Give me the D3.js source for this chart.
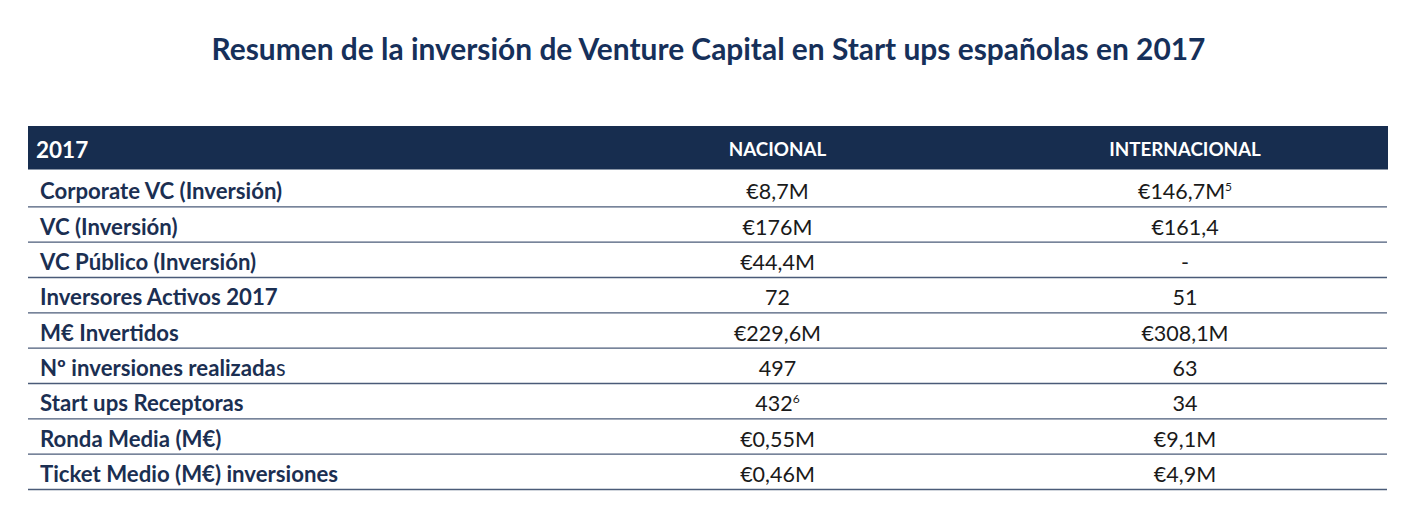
<!DOCTYPE html>
<html>
<head>
<meta charset="utf-8">
<script src="https://cdn.jsdelivr.net/npm/d3@7"></script>
<style>
  html, body { margin: 0; padding: 0; background: #ffffff; }
  svg { display: block; }
</style>
</head>
<body>
<svg id="chart" width="1419" height="529"></svg>
<script>
// ---- data ----
const title = "Resumen de la inversión de Venture Capital en Start ups españolas en 2017";
const headerYear = "2017";
const columns = ["NACIONAL", "INTERNACIONAL"];
const rowLabels = [
  "Corporate VC (Inversión)",
  "VC (Inversión)",
  "VC Público (Inversión)",
  "Inversores Activos 2017",
  "M€ Invertidos",
  "Nº inversiones realizadas",
  "Start ups Receptoras",
  "Ronda Media (M€)",
  "Ticket Medio (M€) inversiones"
];
const nacional = ["€8,7M", "€176M", "€44,4M", "72", "€229,6M", "497", "432", "€0,55M", "€0,46M"];
const internacional = ["€146,7M", "€161,4", "-", "51", "€308,1M", "63", "34", "€9,1M", "€4,9M"];
const nacionalNotes = ["", "", "", "", "", "", "6", "", ""];
const internacionalNotes = ["5", "", "", "", "", "", "", "", ""];
// last character of this label is set in regular weight in the source
const labelRegularTail = ["", "", "", "", "", "s", "", "", ""];

// ---- layout ----
const svg = d3.select("#chart");
const navy = "#172d4f";
const textNavy = "#1b2f52";
const FONT = "Lato, 'Open Sans', sans-serif";

const tableLeft = 28, tableRight = 1388;
const headerTop = 126, headerBottom = 169.5;

const x = d3.scaleOrdinal()
  .domain(columns)
  .range([777.5, 1185]);

const y = d3.scaleBand()
  .domain(rowLabels)
  .range([171.5, 489.5])
  .paddingInner(0)
  .paddingOuter(0);

// title
svg.append("text")
  .attr("x", 708.5)
  .attr("y", 60)
  .attr("text-anchor", "middle")
  .attr("font-family", FONT)
  .attr("font-weight", 700)
  .attr("font-size", 29.9)
  .attr("fill", "#16305a")
  .text(title);

// header band
svg.append("rect")
  .attr("x", tableLeft)
  .attr("y", headerTop)
  .attr("width", tableRight - tableLeft)
  .attr("height", headerBottom - headerTop)
  .attr("fill", navy);

svg.append("text")
  .attr("x", 36)
  .attr("y", 157.5)
  .attr("font-family", FONT)
  .attr("font-weight", 700)
  .attr("font-size", 22.5)
  .attr("fill", "#ffffff")
  .text(headerYear);

svg.selectAll("text.colhead")
  .data(columns)
  .join("text")
  .attr("class", "colhead")
  .attr("x", d => x(d))
  .attr("y", 156)
  .attr("text-anchor", "middle")
  .attr("font-family", FONT)
  .attr("font-weight", 700)
  .attr("font-size", 18.8)
  .attr("fill", "#ffffff")
  .text(d => d);

// rows
const rows = rowLabels.map((label, i) => ({
  label,
  tail: labelRegularTail[i],
  cells: [
    { col: columns[0], value: nacional[i], note: nacionalNotes[i] },
    { col: columns[1], value: internacional[i], note: internacionalNotes[i] }
  ]
}));

const rowG = svg.selectAll("g.row")
  .data(rows)
  .join("g")
  .attr("class", "row")
  .attr("transform", d => `translate(0,${y(d.label)})`);

// separator lines at bottom of each row
rowG.append("line")
  .attr("x1", tableLeft)
  .attr("x2", tableRight - 1)
  .attr("y1", y.bandwidth())
  .attr("y2", y.bandwidth())
  .attr("stroke", "#4a5b78")
  .attr("stroke-width", 1.4);

const baseline = y.bandwidth() - 7.5;

const lab = rowG.append("text")
  .attr("x", 40)
  .attr("y", baseline)
  .attr("font-family", FONT)
  .attr("font-size", 22.2)
  .attr("fill", textNavy);

lab.append("tspan")
  .attr("font-weight", 700)
  .text(d => d.tail ? d.label.slice(0, d.label.length - d.tail.length) : d.label);
lab.filter(d => d.tail).append("tspan")
  .attr("font-weight", 400)
  .text(d => d.tail);

const cell = rowG.selectAll("text.val")
  .data(d => d.cells)
  .join("text")
  .attr("class", "val")
  .attr("x", d => x(d.col))
  .attr("y", baseline)
  .attr("text-anchor", "middle")
  .attr("font-family", FONT)
  .attr("font-size", 21.5)
  .attr("fill", "#1a1a1a");

cell.append("tspan").text(d => d.value);
cell.filter(d => d.note).append("tspan")
  .attr("dy", -8.5)
  .attr("font-size", 12)
  .text(d => d.note);
</script>
</body>
</html>
